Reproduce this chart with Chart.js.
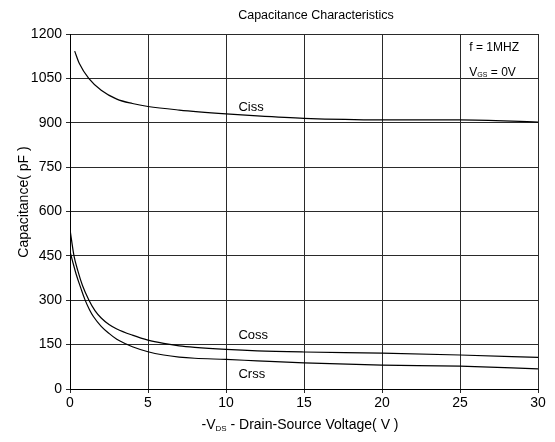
<!DOCTYPE html>
<html>
<head>
<meta charset="utf-8">
<script src="https://cdn.jsdelivr.net/npm/chart.js@4"></script>
<style>
  html, body { margin: 0; padding: 0; background: #fff; }
  #wrap { width: 555px; height: 442px; }
</style>
</head>
<body>
<div id="wrap"><canvas id="capChart" width="555" height="442"></canvas></div>
<script>
// values
const cissV = [0.3, 0.6, 1.2, 2, 3, 4, 5, 7, 10, 12, 15, 20, 25, 30];
const cissC = [1142, 1100, 1050, 1010, 980, 965, 955, 943, 930, 923, 915, 910, 910, 902];

const cossV = [0, 0.25, 0.5, 0.8, 1.2, 1.6, 2, 2.5, 3, 4, 5, 6, 7, 8, 10, 12, 15, 20, 25, 30];
const cossC = [540, 452, 400, 350, 302, 265, 240, 218, 203, 182, 165, 154, 146, 141, 134, 129, 125, 121, 115, 107];

const crssV = [0, 0.15, 0.4, 0.7, 0.95, 1.25, 1.5, 2, 2.5, 3, 3.6, 4, 5, 6, 7, 8, 10, 12, 15, 20, 25, 30];
const crssC = [465, 435, 387, 340, 303, 268, 245, 212, 188, 168, 152, 143, 126, 115, 108, 104, 100, 95, 88, 81, 77, 68];

const xTicks = [0, 5, 10, 15, 20, 25, 30];
const yTicks = [0, 150, 300, 450, 600, 750, 900, 1050, 1200];

const FONT = "'Liberation Sans', Arial, sans-serif";

function pts(xs, ys) {
    return xs.map((x, i) => ({ x: x, y: ys[i] }));
}

function curve(label, xs, ys) {
    return {
        label: label,
        data: pts(xs, ys),
        borderColor: '#000',
        borderWidth: 1.2,
        pointRadius: 0,
        fill: false,
        cubicInterpolationMode: 'monotone'
    };
}

// text labels, subscripts and axis titles
const textPlugin = {
    id: 'texts',
    afterDraw(chart) {
        const ctx = chart.ctx;
        const xs = chart.scales.x, ys = chart.scales.y;
        const area = chart.chartArea;
        ctx.save();
        ctx.fillStyle = '#000';
        ctx.textBaseline = 'middle';

        // chart title
        ctx.font = '12.5px ' + FONT;
        ctx.textAlign = 'center';
        ctx.fillText('Capacitance Characteristics', 316, 16);

        // curve names
        ctx.font = '13px ' + FONT;
        ctx.textAlign = 'left';
        ctx.fillText('Ciss', xs.getPixelForValue(10.8), ys.getPixelForValue(953));
        ctx.fillText('Coss', xs.getPixelForValue(10.8), ys.getPixelForValue(182));
        ctx.fillText('Crss', xs.getPixelForValue(10.8), ys.getPixelForValue(50));

        // conditions
        ctx.font = '12px ' + FONT;
        const cx = xs.getPixelForValue(25.6);
        ctx.fillText('f = 1MHZ', cx, ys.getPixelForValue(1153));
        let y2 = ys.getPixelForValue(1070);
        ctx.fillText('V', cx, y2);
        let w = ctx.measureText('V').width;
        ctx.font = '7px ' + FONT;
        ctx.fillText('GS', cx + w, y2 + 3);
        let w2 = ctx.measureText('GS').width;
        ctx.font = '12px ' + FONT;
        ctx.fillText(' = 0V', cx + w + w2, y2);

        // x axis title with subscript
        ctx.font = '14px ' + FONT;
        const p1 = '-V', p2 = 'DS', p3 = ' - Drain-Source Voltage( V )';
        const a = ctx.measureText(p1).width;
        const c = ctx.measureText(p3).width;
        ctx.font = '8px ' + FONT;
        const b = ctx.measureText(p2).width;
        let sx = 300 - (a + b + c) / 2;
        const ty = 425;
        ctx.font = '14px ' + FONT;
        ctx.fillText(p1, sx, ty);
        ctx.font = '8px ' + FONT;
        ctx.fillText(p2, sx + a, ty + 4);
        ctx.font = '14px ' + FONT;
        ctx.fillText(p3, sx + a + b, ty);

        // y axis title
        ctx.translate(24, 202);
        ctx.rotate(-Math.PI / 2);
        ctx.textAlign = 'center';
        ctx.fillText('Capacitance( pF )', 0, 0);
        ctx.restore();
    }
};

const capCtx = document.getElementById('capChart');
const capChart = new Chart(capCtx, {
    type: 'line',
    data: {
        datasets: [
            curve('Ciss', cissV, cissC),
            curve('Coss', cossV, cossC),
            curve('Crss', crssV, crssC)
        ]
    },
    options: {
        responsive: false,
        animation: false,
        layout: { padding: { left: 0, right: 17, top: 34, bottom: 0 } },
        scales: {
            x: {
                type: 'linear',
                min: 0,
                max: 30,
                afterBuildTicks: function(scale) {
                    scale.ticks = xTicks.map(v => ({ value: v }));
                },
                afterFit: function(scale) { scale.height = 53; },
                border: { color: '#000', width: 1 },
                grid: { color: '#2a2a2a', lineWidth: 1, tickLength: 4 },
                ticks: {
                    color: '#000', font: { family: FONT, size: 14 }, padding: 2, maxRotation: 0,
                    callback: v => String(v)
                }
            },
            y: {
                min: 0,
                max: 1200,
                afterBuildTicks: function(scale) {
                    scale.ticks = yTicks.map(v => ({ value: v }));
                },
                afterFit: function(scale) { scale.width = 70; },
                border: { color: '#000', width: 1 },
                grid: { color: '#2a2a2a', lineWidth: 1, tickLength: 4 },
                ticks: {
                    color: '#000', font: { family: FONT, size: 14 }, padding: 4,
                    callback: v => String(v)
                }
            }
        },
        plugins: {
            legend: { display: false },
            tooltip: { enabled: false }
        }
    },
    plugins: [textPlugin]
});
</script>
</body>
</html>
